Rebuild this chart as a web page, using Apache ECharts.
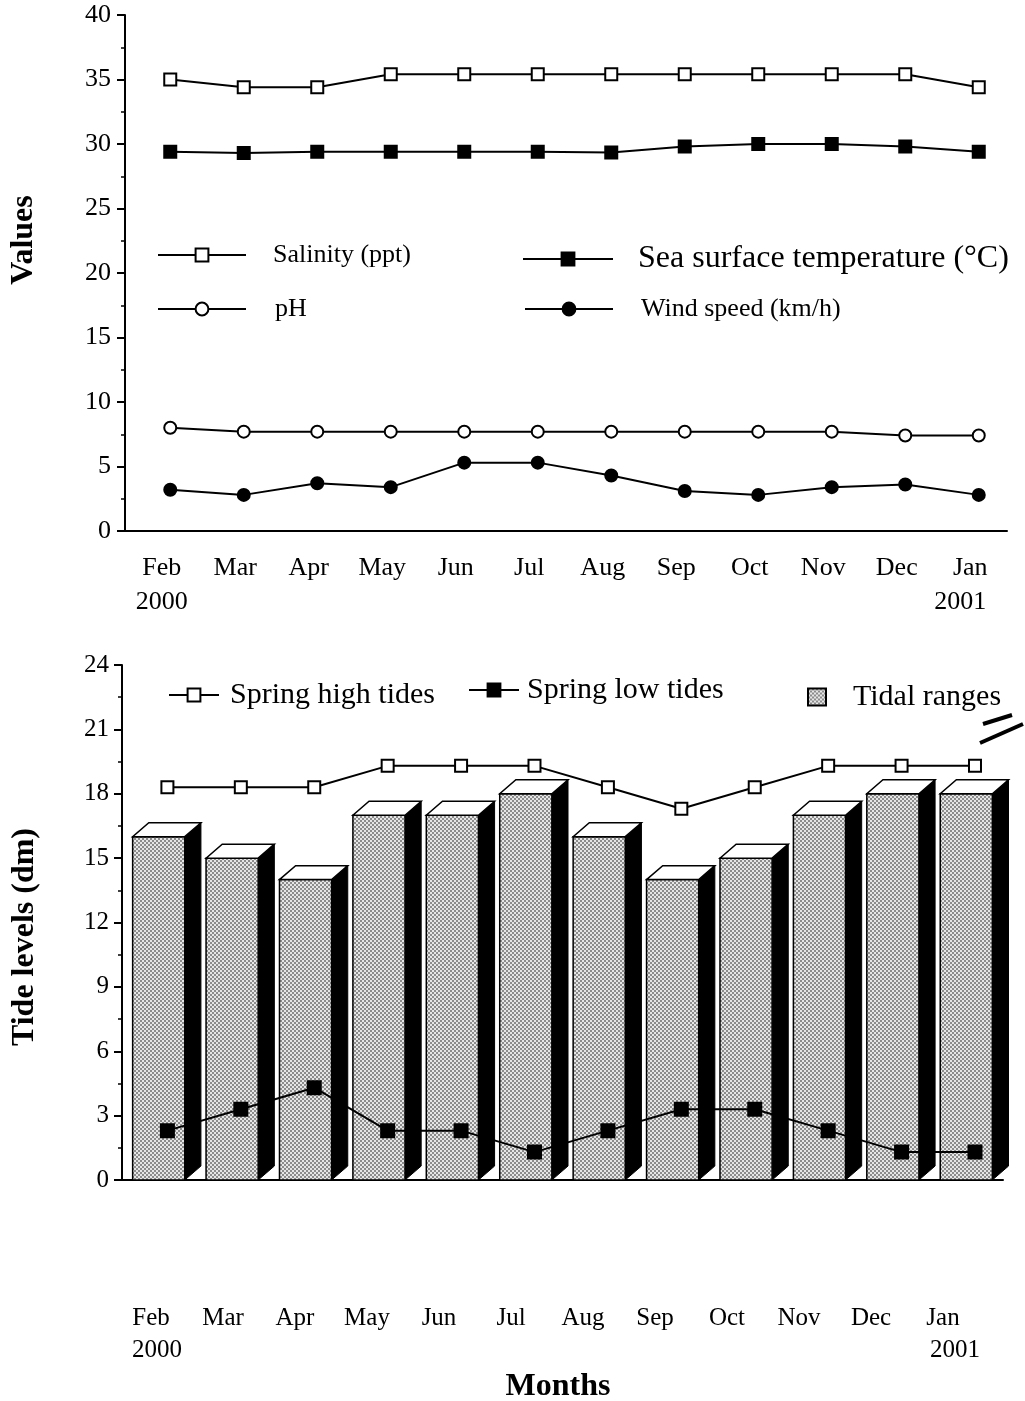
<!DOCTYPE html>
<html>
<head>
<meta charset="utf-8">
<script src="https://cdn.jsdelivr.net/npm/echarts@6/dist/echarts.min.js"></script>
<style>
  html, body { margin: 0; padding: 0; background: #fff; }
  #chart { width: 1025px; height: 1401px; }
</style>
</head>
<body>
<div id="chart"></div>
<script>
// months on both panels
const months = ['Feb', 'Mar', 'Apr', 'May', 'Jun', 'Jul', 'Aug', 'Sep', 'Oct', 'Nov', 'Dec', 'Jan'];
const years = ['2000', '', '', '', '', '', '', '', '', '', '', '2001'];

// upper panel
const salinity = [35.0, 34.4, 34.4, 35.4, 35.4, 35.4, 35.4, 35.4, 35.4, 35.4, 35.4, 34.4];
const seaTemp = [29.4, 29.3, 29.4, 29.4, 29.4, 29.4, 29.35, 29.8, 30.0, 30.0, 29.8, 29.4];
const phValues = [8.0, 7.7, 7.7, 7.7, 7.7, 7.7, 7.7, 7.7, 7.7, 7.7, 7.4, 7.4];
const windSpeed = [3.2, 2.8, 3.7, 3.4, 5.3, 5.3, 4.3, 3.1, 2.8, 3.4, 3.6, 2.8];

// lower panel
const tidalRanges = [16, 15, 14, 17, 17, 18, 16, 14, 15, 17, 18, 18];
const springHigh = [18.3, 18.3, 18.3, 19.3, 19.3, 19.3, 18.3, 17.3, 18.3, 19.3, 19.3, 19.3];
const springLow = [2.3, 3.3, 4.3, 2.3, 2.3, 1.3, 2.3, 3.3, 3.3, 2.3, 1.3, 1.3];

const FONT = "'Liberation Serif', 'Times New Roman', serif";

// dotted grey fill for the bar fronts
const pat = document.createElement('canvas');
pat.width = 4; pat.height = 4;
const pctx = pat.getContext('2d');
for (let x = 0; x < 4; x++) {
  for (let y = 0; y < 4; y++) {
    pctx.fillStyle = (((x >> 1) + (y >> 1)) % 2 === 0) ? '#8c8c8c' : '#e6e6e6';
    pctx.fillRect(x, y, 1, 1);
  }
}
const dotted = { image: pat, repeat: 'repeat' };

const axisLine = { lineStyle: { color: '#000', width: 2 } };
const tick = { alignWithLabel: true, length: 8, lineStyle: { color: '#000', width: 2 } };
const lbl = (size, margin) => ({ fontSize: size, color: '#000', fontFamily: FONT, margin: margin, interval: 0 });

function lineSeries (name, data, xi, yi, symbol, fill, size) {
  return {
    name: name,
    type: 'line',
    xAxisIndex: xi,
    yAxisIndex: yi,
    data: data,
    symbol: symbol,
    symbolSize: size,
    z: 5,
    lineStyle: { color: '#000', width: 2 },
    itemStyle: { color: fill, borderColor: '#000', borderWidth: 2 }
  };
}

// legend boxes carry 5px padding, so left/top are shifted by that
function legendItem (name, left, top, w, h, size, gap) {
  return {
    data: [name], left: left - 5, top: top - 5, itemWidth: w, itemHeight: h,
    selectedMode: false,
    textStyle: { fontSize: size, fontFamily: FONT, color: '#000', padding: [0, 0, 0, gap] }
  };
}

var chart = echarts.init(document.getElementById('chart'));
var option = {
  animation: false,
  backgroundColor: '#fff',
  textStyle: { fontFamily: FONT },
  grid: [
    { left: 125, top: 15, width: 882, height: 516 },
    { left: 133.5, top: 15, width: 882, height: 516 },
    { left: 122, top: 665, width: 881, height: 515 },
    { left: 130.7, top: 665, width: 881, height: 515 },
    { left: 115, top: 665, width: 864, height: 515 }
  ],
  xAxis: [
    { gridIndex: 0, type: 'category', data: months, position: 'bottom', axisLine: axisLine, axisTick: tick, axisLabel: lbl(26, 24) },
    {
      gridIndex: 0, type: 'category', position: 'bottom',
      data: years.map((y, i) => i === 11 ? { value: y, textStyle: { padding: [0, 20, 0, 0] } } : y),
      axisLine: { show: false }, axisTick: { show: false }, axisLabel: lbl(26, 58)
    },
    { gridIndex: 1, type: 'category', data: months, show: false },
    { gridIndex: 2, type: 'category', data: months, position: 'bottom', axisLine: axisLine, axisTick: tick, axisLabel: { show: false } },
    { gridIndex: 3, type: 'category', data: months, show: false },
    { gridIndex: 4, type: 'category', data: months, position: 'bottom', axisLine: { show: false }, axisTick: { show: false }, axisLabel: lbl(25, 126) },
    {
      gridIndex: 4, type: 'category', position: 'bottom',
      data: years.map((y, i) => i === 0 ? { value: y, textStyle: { padding: [0, 0, 0, 12] } }
        : i === 11 ? { value: y, textStyle: { padding: [0, 0, 0, 24] } } : y),
      axisLine: { show: false }, axisTick: { show: false }, axisLabel: lbl(25, 158)
    }
  ],
  yAxis: [
    {
      gridIndex: 0, type: 'value', min: 0, max: 40, interval: 5,
      axisLine: { show: true, lineStyle: { color: '#000', width: 2 } },
      axisTick: { show: true, length: 8, lineStyle: { color: '#000', width: 2 } },
      minorTick: { show: true, splitNumber: 2, length: 4, lineStyle: { color: '#000', width: 1.5 } },
      splitLine: { show: false },
      axisLabel: { fontSize: 26, color: '#000', fontFamily: FONT, margin: 14 }
    },
    { gridIndex: 1, type: 'value', min: 0, max: 40, show: false },
    {
      gridIndex: 2, type: 'value', min: 0, max: 24, interval: 3,
      axisLine: { show: true, lineStyle: { color: '#000', width: 2 } },
      axisTick: { show: true, length: 8, lineStyle: { color: '#000', width: 2 } },
      minorTick: { show: true, splitNumber: 2, length: 4, lineStyle: { color: '#000', width: 1.5 } },
      splitLine: { show: false },
      axisLabel: { fontSize: 25, color: '#000', fontFamily: FONT, margin: 13 }
    },
    { gridIndex: 3, type: 'value', min: 0, max: 24, show: false },
    { gridIndex: 4, type: 'value', min: 0, max: 24, show: false }
  ],
  legend: [
    legendItem('Salinity (ppt)', 157, 242, 88, 16, 26, 22),
    legendItem('pH', 157, 296, 88, 16, 26, 24),
    legendItem('Sea surface temperature (\u00B0C)', 522, 243, 90, 16, 32, 20),
    legendItem('Wind speed (km/h)', 524, 296, 88, 16, 26, 23),
    legendItem('Spring high tides', 168, 680, 50, 16, 30, 6),
    legendItem('Spring low tides', 468, 675, 50, 16, 30, 3),
    {
      data: [{ name: 'Tidal ranges', icon: 'rect', itemStyle: { color: dotted, borderColor: '#000', borderWidth: 2 } }],
      left: 802, top: 677, itemWidth: 18, itemHeight: 17, selectedMode: false,
      textStyle: { fontSize: 30, fontFamily: FONT, color: '#000', padding: [0, 0, 0, 22] }
    }
  ],
  graphic: [
    { type: 'text', x: 24, y: 240, rotation: Math.PI / 2, style: { text: 'Values', font: "bold 32px " + FONT, fill: '#000', align: 'center', verticalAlign: 'middle' } },
    { type: 'text', x: 25, y: 937, rotation: Math.PI / 2, style: { text: 'Tide levels (dm)', font: "bold 32px " + FONT, fill: '#000', align: 'center', verticalAlign: 'middle' } },
    { type: 'text', x: 558, y: 1387, style: { text: 'Months', font: "bold 32px " + FONT, fill: '#000', align: 'center', verticalAlign: 'middle' } },
    // axis break mark at top right
    { type: 'line', shape: { x1: 983, y1: 724, x2: 1012, y2: 715 }, style: { stroke: '#000', lineWidth: 4 } },
    { type: 'line', shape: { x1: 980, y1: 743, x2: 1023, y2: 724 }, style: { stroke: '#000', lineWidth: 4 } }
  ],
  series: [
    lineSeries('Salinity (ppt)', salinity, 2, 1, 'rect', '#fff', 12),
    lineSeries('Sea surface temperature (\u00B0C)', seaTemp, 2, 1, 'rect', '#000', 12),
    lineSeries('pH', phValues, 2, 1, 'circle', '#fff', 12),
    lineSeries('Wind speed (km/h)', windSpeed, 2, 1, 'circle', '#000', 12),
    {
      name: 'Tidal ranges',
      type: 'custom',
      xAxisIndex: 3,
      yAxisIndex: 2,
      z: 2,
      itemStyle: { color: '#bbb' },
      data: tidalRanges.map((v, i) => [i, v]),
      renderItem: function (params, api) {
        var top = api.coord([api.value(0), api.value(1)]);
        var base = api.coord([api.value(0), 0]);
        var band = api.size([1, 0])[0];
        var w = band * 0.71, dx = band * 0.22, dy = band * 0.19;
        var xl = top[0] - w / 2, xr = top[0] + w / 2, yt = top[1], yb = base[1];
        return {
          type: 'group',
          children: [
            { type: 'polygon', shape: { points: [[xr, yt], [xr + dx, yt - dy], [xr + dx, yb - dy], [xr, yb]] }, style: { fill: '#000', stroke: '#000', lineWidth: 1 } },
            { type: 'rect', shape: { x: xl, y: yt, width: w, height: yb - yt }, style: { fill: dotted, stroke: '#000', lineWidth: 1.5 } },
            { type: 'polygon', shape: { points: [[xl, yt], [xr, yt], [xr + dx, yt - dy], [xl + dx, yt - dy]] }, style: { fill: '#fff', stroke: '#000', lineWidth: 1.5 } }
          ]
        };
      }
    },
    lineSeries('Spring high tides', springHigh, 4, 3, 'rect', '#fff', 12),
    lineSeries('Spring low tides', springLow, 4, 3, 'rect', '#000', 13)
  ]
};
chart.setOption(option);
</script>
</body>
</html>
